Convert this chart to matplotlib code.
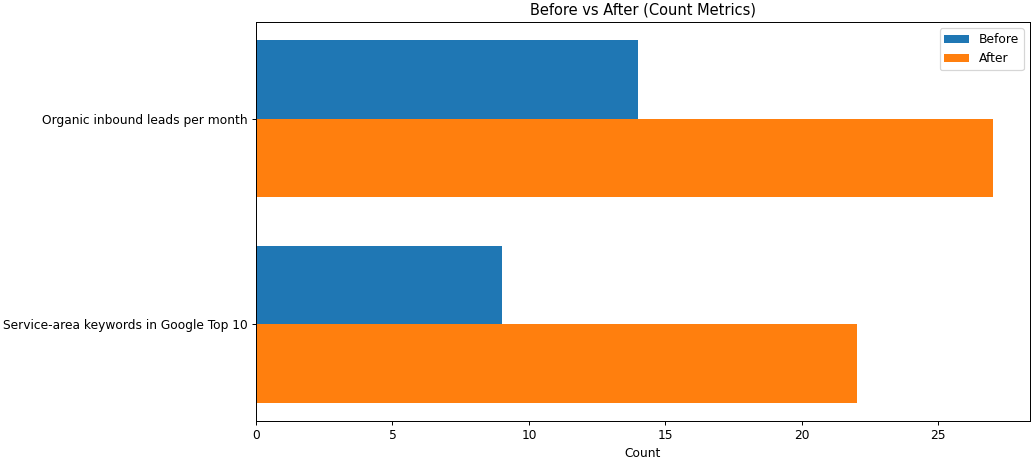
import numpy as np
import matplotlib
matplotlib.use("Agg")
import matplotlib.pyplot as plt

# Count metrics, before and after
metrics = ["Organic inbound leads per month", "Service-area keywords in Google Top 10"]
before = [14, 9]
after = [27, 22]

y = np.arange(len(metrics))
h = 0.38

# reference looks rendered at a smaller scale, so use a lower dpi
dpi = 88
fig, ax = plt.subplots(figsize=(1034 / dpi, 461 / dpi), dpi=dpi)
ax.barh(y - h / 2, before, height=h, label="Before")
ax.barh(y + h / 2, after, height=h, label="After")
ax.set_yticks(y)
ax.set_yticklabels(metrics)
ax.invert_yaxis()
ax.set_xlabel("Count")
ax.set_title("Before vs After (Count Metrics)")
ax.legend(loc="upper right")

fig.subplots_adjust(left=0.2476, right=0.996, top=0.952, bottom=0.087)
fig.savefig("out.png", dpi=dpi)
